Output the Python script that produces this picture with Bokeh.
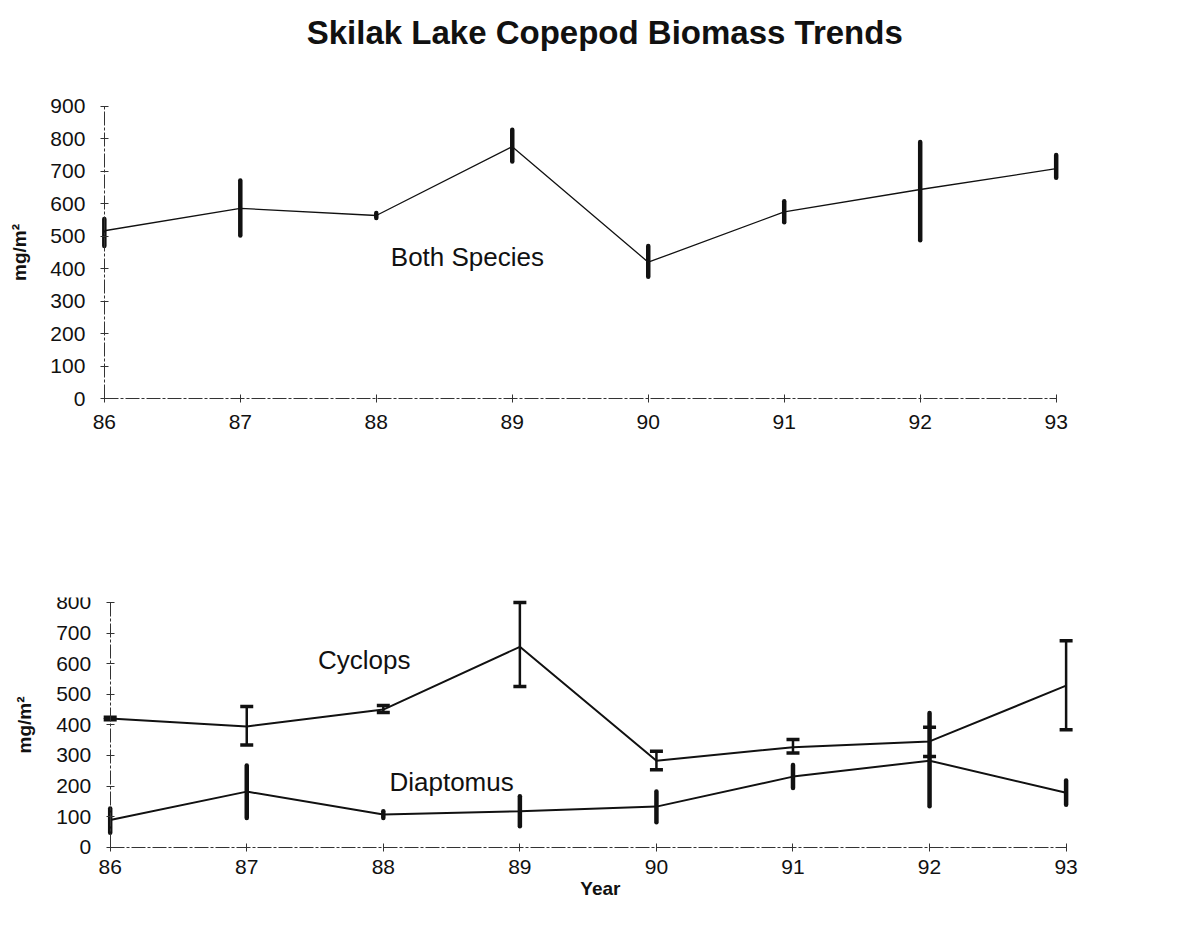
from bokeh.plotting import figure
from bokeh.models import (Range1d, LinearAxis, FixedTicker, Whisker, TeeHead,
                          ColumnDataSource, Label)
from bokeh.layouts import column
from bokeh.embed import file_html
from bokeh.resources import INLINE

# ---------------- data ----------------
years = [86, 87, 88, 89, 90, 91, 92, 93]

both_mean = [517, 586, 564, 776, 420, 575, 644, 708]
both_low = [470, 502, 556, 730, 375, 543, 488, 680]
both_high = [553, 672, 572, 828, 470, 608, 790, 750]

cyclops_mean = [421, 395, 450, 655, 283, 327, 346, 528]
cyclops_low = [417, 334, 440, 525, 253, 308, 297, 384]
cyclops_high = [425, 460, 463, 800, 314, 352, 392, 675]

diap_mean = [89, 182, 107, 118, 133, 231, 283, 178]
diap_low = [48, 96, 96, 69, 82, 194, 134, 139]
diap_high = [127, 267, 118, 167, 182, 269, 439, 218]

top_yticks = [0, 100, 200, 300, 400, 500, 600, 700, 800, 900]
bottom_yticks = [0, 100, 200, 300, 400, 500, 600, 700, 800]

FONT = "Liberation Sans"
INK = "#111111"


def style_axis(ax, label_standoff):
    ax.axis_line_color = "#333333"
    ax.axis_line_width = 1
    ax.axis_line_dash = "14 2 3 2"
    ax.major_tick_line_color = "#333333"
    ax.major_tick_in = 4
    ax.major_tick_out = 4
    ax.minor_tick_line_color = None
    ax.major_label_text_font = FONT
    ax.major_label_text_font_size = "21px"
    ax.major_label_text_color = INK
    ax.major_label_standoff = label_standoff
    ax.axis_label_text_font = FONT
    ax.axis_label_text_font_style = "bold"
    ax.axis_label_text_font_size = "19px"
    ax.axis_label_text_color = INK


def make_fig(frame_w, frame_h, xr, yr, left, right, top, bottom):
    p = figure(frame_width=frame_w, frame_height=frame_h,
               x_range=xr, y_range=yr,
               x_axis_location=None, y_axis_location=None,
               toolbar_location=None, output_backend="svg",
               min_border_left=left, min_border_right=right,
               min_border_top=top, min_border_bottom=bottom)
    p.outline_line_color = None
    p.grid.visible = False
    p.background_fill_color = "white"
    p.border_fill_color = "white"
    return p


# ---------------- top chart: both species ----------------
p1 = make_fig(1062, 437, Range1d(85.31, 93.12), Range1d(-126, 1220), 10, 111, 2, 1)

xa1 = LinearAxis(ticker=FixedTicker(ticks=years), bounds=(86, 93), fixed_location=0)
style_axis(xa1, 12)
p1.add_layout(xa1, "below")
ya1 = LinearAxis(ticker=FixedTicker(ticks=top_yticks), fixed_location=86,
                 bounds=(0, 900), axis_label="mg/m²", axis_label_standoff=17)
style_axis(ya1, 15)
p1.add_layout(ya1, "left")

src_both = ColumnDataSource(dict(x=years, m=both_mean, lo=both_low, hi=both_high))
p1.line("x", "m", source=src_both, line_color=INK, line_width=1.3)
p1.segment(x0="x", y0="lo", x1="x", y1="hi", source=src_both,
           line_color=INK, line_width=4.5, line_cap="round")

p1.add_layout(Label(x=89.68, y=1127, text="Skilak Lake Copepod Biomass Trends",
                    text_align="center", text_baseline="middle", text_font=FONT,
                    text_font_style="bold", text_font_size="33px", text_color=INK))
p1.add_layout(Label(x=88.67, y=437, text="Both Species", text_align="center",
                    text_baseline="middle", text_font=FONT,
                    text_font_size="26px", text_color=INK))

# ---------------- bottom chart: Cyclops and Diaptomus ----------------
p2 = make_fig(1072, 308, Range1d(85.27, 93.12), Range1d(-190, 816), 10, 101, 157, 1)

xa2 = LinearAxis(ticker=FixedTicker(ticks=years), bounds=(86, 93), fixed_location=0)
style_axis(xa2, 9)
p2.add_layout(xa2, "below")
ya2 = LinearAxis(ticker=FixedTicker(ticks=bottom_yticks), fixed_location=86,
                 axis_label="mg/m²", axis_label_standoff=18, bounds=(0, 800))
style_axis(ya2, 15)
p2.add_layout(ya2, "left")

src_cyc = ColumnDataSource(dict(x=years, m=cyclops_mean, lo=cyclops_low, hi=cyclops_high))
src_dia = ColumnDataSource(dict(x=years, m=diap_mean, lo=diap_low, hi=diap_high))

p2.line("x", "m", source=src_cyc, line_color=INK, line_width=2)
p2.line("x", "m", source=src_dia, line_color=INK, line_width=2)
p2.segment(x0="x", y0="lo", x1="x", y1="hi", source=src_dia,
           line_color=INK, line_width=4.5, line_cap="round")
p2.add_layout(Whisker(base="x", lower="lo", upper="hi", source=src_cyc,
                      line_color=INK, line_width=2.5,
                      upper_head=TeeHead(size=13, line_width=3.5, line_color=INK),
                      lower_head=TeeHead(size=13, line_width=3.5, line_color=INK)))

p2.add_layout(Label(x=87.86, y=613, text="Cyclops", text_align="center",
                    text_baseline="middle", text_font=FONT,
                    text_font_size="26px", text_color=INK))
p2.add_layout(Label(x=88.50, y=214, text="Diaptomus", text_align="center",
                    text_baseline="middle", text_font=FONT,
                    text_font_size="26px", text_color=INK))
p2.add_layout(Label(x=89.59, y=-135, text="Year", text_align="center",
                    text_baseline="middle", text_font=FONT, text_font_style="bold",
                    text_font_size="19px", text_color=INK))

layout = column(p1, p2, spacing=0)
open("out.html", "w").write(file_html(layout, INLINE))
